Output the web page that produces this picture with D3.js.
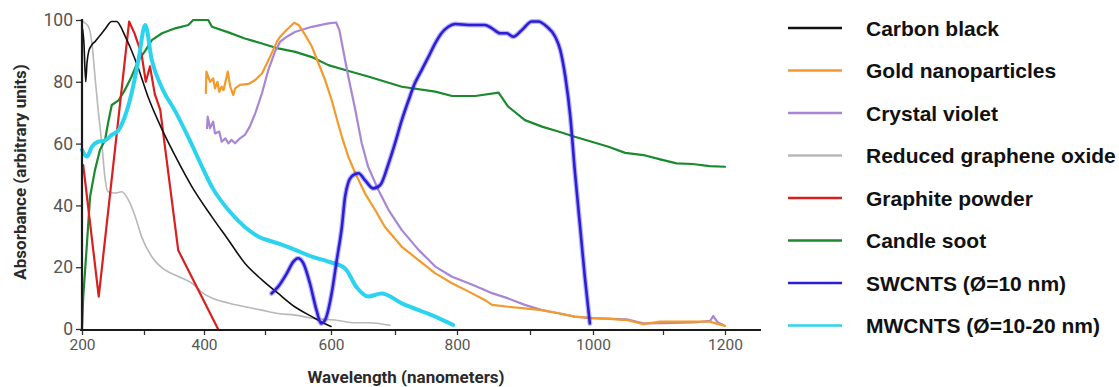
<!DOCTYPE html>
<html>
<head>
<meta charset="utf-8">
<script src="https://cdn.jsdelivr.net/npm/d3@7"></script>
<style>
  html, body { margin: 0; padding: 0; background: #fff; }
  svg { display: block; }
</style>
</head>
<body>
<svg id="chart" width="1119" height="387"></svg>
<script>
// ---------- DATA (wavelength nm, absorbance a.u.) ----------
const xTickValues = [200, 300, 400, 500, 600, 700, 800, 900, 1000, 1100, 1200];
const xTickLabels = ["200", "", "400", "", "600", "", "800", "", "1000", "", "1200"];
const yTickValues = [0, 20, 40, 60, 80, 100];

const seriesNames = ["Carbon black", "Gold nanoparticles", "Crystal violet", "Reduced graphene oxide",
  "Graphite powder", "Candle soot", "SWCNTS (\u00D8=10 nm)", "MWCNTS (\u00D8=10-20 nm)"];

const carbonBlack = [[201,97],[203,93],[206,80],[208,86],[211,90],[216,92],[221,93],[229,95],[237,97],
  [248,99.5],[256,99.5],[262,98],[269,95],[278,91],[288,86],[307,75],[329,65],[352,56],[380,46],
  [413,36.3],[440,28.8],[467,21.3],[495,15.9],[520,11.5],[545,7.2],[571,4],[590,1.8],[600,0.8]];

const goldNano = [[403,76.3],[404,83.3],[410,80],[415,81.1],[418,77.9],[422,80],[425,76.8],[429,78.4],
  [432,77.3],[439,83.3],[443,78.4],[448,75.7],[451,77.9],[459,79],[473,79.3],[484,80.6],[495,82.7],
  [503,86],[510,89.2],[518,93],[523,94.6],[530,96.2],[544,99.1],[551,98.4],[561,95.1],[571,91.4],
  [581,86],[591,80.6],[601,74.1],[611,66.6],[617,62.2],[627,55.8],[638,50.4],[653,43.9],[669,38.5],
  [684,33.1],[711,26.6],[738,22.3],[765,18],[792,14.8],[816,12.1],[838,9.4],[848,7.8],[870,7.2],
  [893,6.7],[919,6.1],[945,5.1],[971,4],[998,3.5],[1024,3.3],[1048,2.9],[1072,1.6],[1096,2.4],
  [1122,2.4],[1148,2.4],[1175,2.4],[1200,1]];

const crystalViolet = [[405,65],[406,68.7],[410,65],[415,67.1],[418,63.3],[425,63.9],[429,60.6],
  [435,61.7],[440,60.1],[445,61.2],[451,60.1],[459,61.7],[467,62.8],[475,65.5],[484,69.8],[495,76.3],
  [505,83.8],[515,89.7],[523,93],[533,94.6],[546,96.2],[571,97.8],[596,98.9],[608,99.2],[613,96.8],
  [617,92.5],[627,81.7],[638,70.9],[648,60.1],[658,52.5],[674,45],[690,38.5],[711,32],[738,25.6],
  [765,20.2],[792,16.9],[816,14.8],[838,12.6],[848,11.6],[870,9.9],[893,7.8],[919,6.1],[945,5.1],
  [971,4],[998,3.5],[1048,3.1],[1072,1.8],[1100,1.9],[1150,2.1],[1176,2.6],[1181,4.2],[1188,2.2],[1197,1.3]];

const reducedGO = [[200,100],[202,99.5],[210,98],[216,92.5],[221,81.6],[226,71],[232,60],[237,49],
  [242,44.4],[253,44],[264,44.4],[275,41.7],[286,36.3],[296,29.9],[313,23.4],[335,19.1],[357,17],
  [380,14.8],[398,11.6],[413,10],[440,8.4],[467,7.2],[495,6.1],[520,5],[546,4.5],[571,3.5],
  [606,2.9],[638,2],[658,2],[692,1.2]];

const graphitePowder = [[202,53],[227,10.5],[276,99.5],[285,95.5],[296,89],[303,80],[310,85],[318,76],
  [327,71],[357,25.5],[423,0]];

const candleSoot = [[200,0],[202,10.5],[208,27.7],[213,42.8],[221,51.5],[229,58],[237,61],[242,66.6],
  [248,72.5],[259,74],[269,77.3],[280,81.7],[291,87],[302,90],[313,93.5],[330,95.7],[352,97.3],
  [374,98.4],[382,100],[407,100],[413,97.8],[440,96],[467,94],[495,92.4],[520,90.8],[546,89.7],
  [571,88],[596,85.4],[622,83.8],[658,81.7],[711,78.4],[765,76.8],[792,75.4],[825,75.4],[857,76.5],
  [870,72],[893,67.6],[919,65.5],[945,63.9],[971,62.2],[998,60.6],[1022,59],[1046,57],[1072,56.3],
  [1096,54.9],[1122,53.6],[1148,53.4],[1175,52.7],[1200,52.5]];

const swcnt = [[510,11.5],[520,13.7],[533,18],[543,21.8],[550,22.9],[558,21.3],[568,14.8],[578,6.1],
  [585,1.8],[591,2.9],[601,11.5],[609,22.3],[617,33.1],[622,42.8],[632,49.3],[643,50.4],[653,48.2],
  [666,45.5],[677,46.6],[690,53.6],[700,60.1],[711,67.6],[722,74.1],[732,79.5],[743,83.8],[754,88.1],
  [765,92.5],[775,95.7],[786,97.8],[797,98.7],[816,98.4],[838,98.4],[848,97.3],[859,95.7],[868,95.7],
  [877,94.6],[889,96.8],[903,99.5],[913,99.5],[927,97.8],[940,94.6],[948,90.3],[956,81.7],[964,68.7],
  [971,51.5],[979,34.2],[987,16.9],[995,1.8]];

const mwcnt = [[200,58],[208,55.8],[216,59],[226,60.6],[237,61],[248,62.8],[259,64.4],[269,68.7],
  [280,76.3],[291,87],[302,98.4],[313,87],[330,78],[352,70.5],[374,62],[398,52],[413,46],
  [440,38.5],[467,33],[489,29.9],[520,27.7],[546,25.6],[571,23.4],[596,21.8],[622,19.6],[640,13.5],
  [658,10.5],[679,11.5],[711,8.3],[765,4],[794,1.3]];

const seriesColors = ["#111111", "#f39a2b", "#a985d6", "#b8b8b8", "#d91f1f", "#1b8a2f", "#2a1fd6", "#2bd3ee"];

// ---------- LAYOUT ----------
const svg = d3.select("#chart");
svg.append("rect").attr("width", 1119).attr("height", 387).attr("fill", "#fff");

const x = d3.scaleLinear().domain(xTickValues)
  .range([82, 144, 204, 265, 331, 395, 457, 530, 593, 663, 725]);
const y = d3.scaleLinear().domain([0, 100]).range([329, 20]);

const line = d3.line().x(d => x(d[0])).y(d => y(d[1]));
const smooth = d3.line().x(d => x(d[0])).y(d => y(d[1])).curve(d3.curveMonotoneX);

const plot = svg.append("g");

function draw(data, color, width, gen) {
  plot.append("path").datum(data)
    .attr("fill", "none").attr("stroke", color).attr("stroke-width", width)
    .attr("stroke-linejoin", "round").attr("stroke-linecap", "round")
    .attr("d", gen || line);
}

draw(reducedGO, seriesColors[3], 1.6, smooth);
draw(candleSoot, seriesColors[5], 2.2);
draw(graphitePowder, seriesColors[4], 2.2);
draw(carbonBlack, seriesColors[0], 1.6, smooth);
draw(mwcnt, seriesColors[7], 4, smooth);
draw(crystalViolet, seriesColors[2], 2.2);
draw(goldNano, seriesColors[1], 2.2);
// SWCNT with soft halo
draw(swcnt, "rgba(60,40,230,0.35)", 5, smooth);
draw(swcnt, seriesColors[6], 2.6, smooth);

// ---------- AXES ----------
const xAxis = d3.axisBottom(x).tickValues(xTickValues)
  .tickFormat((d, i) => xTickLabels[i]).tickSize(5).tickSizeOuter(0).tickPadding(4);
const gx = svg.append("g").attr("transform", "translate(0,330)").call(xAxis);
gx.select(".domain").remove();
gx.append("line").attr("x1", 80).attr("x2", 761).attr("y1", 0).attr("y2", 0)
  .attr("stroke", "#1a1a1a").attr("stroke-width", 2.2);
gx.selectAll(".tick line").attr("stroke", "#333").attr("stroke-width", 1.3);
gx.selectAll(".tick text").attr("font-family", "Roboto, sans-serif").attr("font-size", 15.5)
  .attr("fill", "#555");

const yAxis = d3.axisLeft(y).tickValues(yTickValues).tickSize(6).tickSizeOuter(0).tickPadding(3);
const gy = svg.append("g").attr("transform", "translate(82,0)").call(yAxis);
gy.select(".domain").remove();
gy.append("line").attr("x1", 0).attr("x2", 0).attr("y1", 19).attr("y2", 331)
  .attr("stroke", "#1a1a1a").attr("stroke-width", 2.2);
gy.selectAll(".tick line").attr("stroke", "#333").attr("stroke-width", 1.3);
gy.selectAll(".tick text").attr("font-family", "Roboto, sans-serif").attr("font-size", 17.5)
  .attr("fill", "#555");

svg.append("text").attr("transform", "translate(26,172) rotate(-90)")
  .attr("text-anchor", "middle").attr("font-family", "Roboto, sans-serif")
  .attr("font-weight", "bold").attr("font-size", 17).attr("fill", "#2a2a2a")
  .text("Absorbance (arbitrary units)");

svg.append("text").attr("x", 406).attr("y", 383)
  .attr("text-anchor", "middle").attr("font-family", "Roboto, sans-serif")
  .attr("font-weight", "bold").attr("font-size", 17).attr("fill", "#2a2a2a")
  .text("Wavelength (nanometers)");

// ---------- LEGEND ----------
const legend = svg.append("g");
seriesNames.forEach((name, i) => {
  const cy = 28 + i * 42.5;
  legend.append("line").attr("x1", 788).attr("x2", 842).attr("y1", cy).attr("y2", cy)
    .attr("stroke", seriesColors[i]).attr("stroke-width", 2.6);
  legend.append("text").attr("x", 866).attr("y", cy + 7.5)
    .attr("font-family", "'Liberation Sans', Arial, sans-serif").attr("font-weight", "bold")
    .attr("font-size", 21).attr("fill", "#111").text(name);
});
</script>
</body>
</html>
